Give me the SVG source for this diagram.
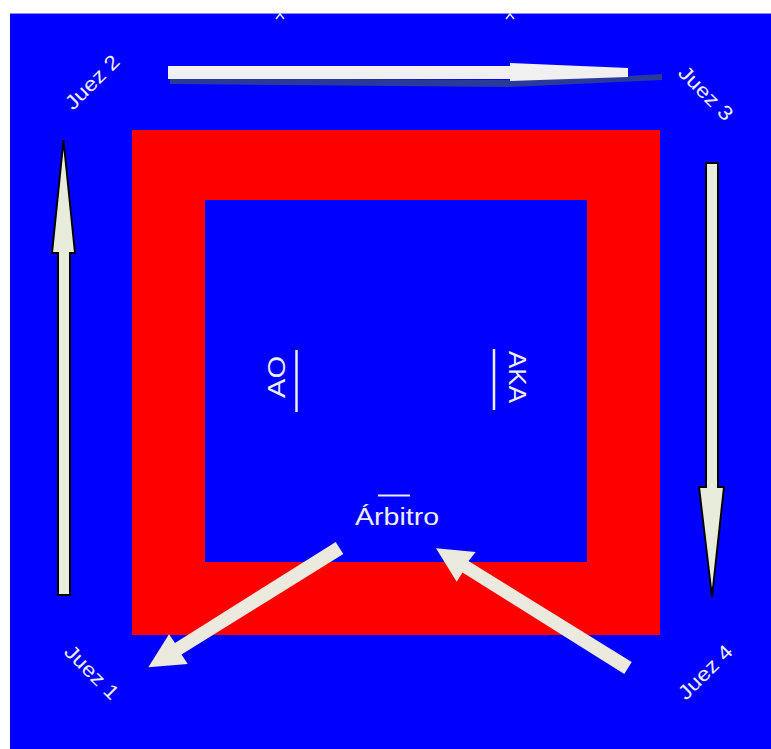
<svg xmlns="http://www.w3.org/2000/svg" width="771" height="749" viewBox="0 0 771 749">
<style>
.lbl{font-family:"Liberation Sans",Arial,sans-serif;fill:#eeeef8}
.varr{fill:#e8eddb;stroke:#000;stroke-width:2;stroke-linejoin:miter}
.darr{fill:#ece9df}
</style>
<rect x="0" y="0" width="771" height="749" fill="#ffffff"/>
<g id="tatami">
<rect x="10" y="13" width="761" height="736" fill="#0000ff"/>
<line x1="10" y1="13.5" x2="771" y2="13.5" stroke="#8c8cf0" stroke-width="1"/>
<rect x="132" y="130" width="528" height="505" fill="#ff0000"/>
<rect x="205" y="200" width="382" height="362" fill="#0000ff"/>
<path d="M276 19 L280 14 L284 19 M506 19 L510 14 L514 19" fill="none" stroke="#e6e6f0" stroke-width="1.5"/>
</g>
<g id="connectors">
<polygon points="170,78 510,80 628,76 662,74 662,80 510,87 170,84" fill="#2a3a9a"/>
<polygon points="168,66 510,66 510,63 628,68 628,77 510,81 510,79 168,79" fill="#f0f0f0"/>
<polygon class="varr" points="58,595 58,253 52,253 63.5,140 75,253 70,253 70,595"/>
<polygon class="varr" points="706,163 718,163 718,487 724,487 712,597 699,487 706,487"/>
<polygon class="darr" points="335.7,542 175,643 169,634.3 148.3,667.3 187.7,664 181.5,654.5 343.3,554"/>
<polygon class="darr" points="631.7,662 468.5,561 475.7,552 436,548.3 456.7,581.7 462.5,572.5 624.3,674"/>
</g>
<g id="juez2"><text class="lbl" font-size="20" text-anchor="middle" transform="translate(92,82) rotate(-45)" y="7" textLength="68" lengthAdjust="spacingAndGlyphs">Juez 2</text></g>
<g id="juez3"><text class="lbl" font-size="20" text-anchor="middle" transform="translate(706,93) rotate(45)" y="7" textLength="68" lengthAdjust="spacingAndGlyphs">Juez 3</text></g>
<g id="juez1"><text class="lbl" font-size="20" text-anchor="middle" transform="translate(92,672) rotate(45)" y="7" textLength="68" lengthAdjust="spacingAndGlyphs">Juez 1</text></g>
<g id="juez4"><text class="lbl" font-size="20" text-anchor="middle" transform="translate(705,672) rotate(-45)" y="7" textLength="68" lengthAdjust="spacingAndGlyphs">Juez 4</text></g>
<g id="ao">
<text class="lbl" font-size="23" text-anchor="middle" transform="translate(285,377) rotate(-90)" textLength="42" lengthAdjust="spacingAndGlyphs">AO</text>
<line x1="296.5" y1="350" x2="296.5" y2="412" stroke="#eeeef8" stroke-width="2.5"/>
</g>
<g id="aka">
<text class="lbl" font-size="23" text-anchor="middle" transform="translate(509,377) rotate(90)" textLength="52" lengthAdjust="spacingAndGlyphs">AKA</text>
<line x1="494" y1="349" x2="494" y2="410" stroke="#eeeef8" stroke-width="2.5"/>
</g>
<g id="arbitro">
<text class="lbl" font-size="23" x="397" y="525" text-anchor="middle" textLength="84" lengthAdjust="spacingAndGlyphs">Árbitro</text>
<line x1="378" y1="495.5" x2="410" y2="495.5" stroke="#eeeef8" stroke-width="2"/>
</g>
</svg>
